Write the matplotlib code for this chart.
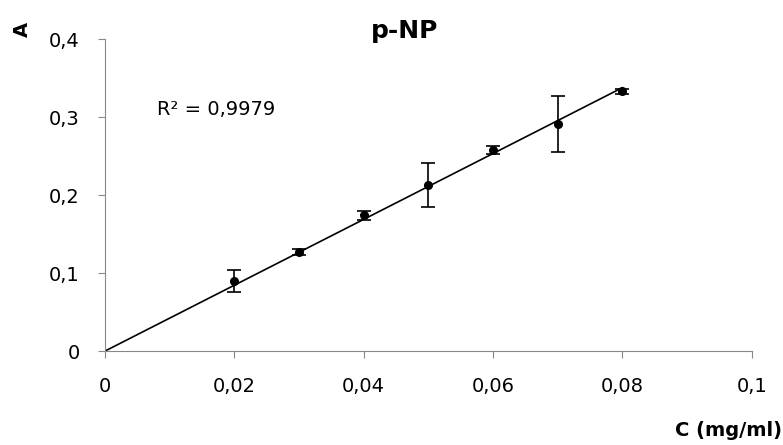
import numpy as np
import matplotlib.pyplot as plt
from matplotlib.ticker import FuncFormatter

plt.rcParams['font.family'] = ['DejaVu Sans']

# -----------------------
# Data
# -----------------------
conc = [0.02, 0.03, 0.04, 0.05, 0.06, 0.07, 0.08]
absorb = [0.090, 0.127, 0.174, 0.213, 0.258, 0.291, 0.333]
err = [0.014, 0.004, 0.006, 0.028, 0.005, 0.036, 0.003]
x_ticks = [0, 0.02, 0.04, 0.06, 0.08, 0.1]
y_ticks = [0, 0.1, 0.2, 0.3, 0.4]
r2_text = "R\u00b2 = 0,9979"

# linear trendline through origin
x = np.array(conc)
y = np.array(absorb)
slope = np.sum(x * y) / np.sum(x * x)

fig = plt.figure(figsize=(7.83, 4.45), dpi=100)
ax = fig.add_axes([0.134, 0.211, 0.826, 0.701])

ax.plot([0, x.max()], [0, slope * x.max()], color="black", lw=1.2, zorder=2)
ax.errorbar(conc, absorb, yerr=err, fmt="o", color="black", ms=5.5,
            elinewidth=1.2, capsize=5, capthick=1.2, zorder=3)

ax.set_xlim(0, 0.1)
ax.set_ylim(0, 0.4)
ax.set_xticks(x_ticks)
ax.set_yticks(y_ticks)
comma = FuncFormatter(lambda v, p: ("%g" % round(v, 3)).replace(".", ","))
ax.xaxis.set_major_formatter(comma)
ax.yaxis.set_major_formatter(comma)

for s in ["top", "right"]:
    ax.spines[s].set_visible(False)
for s in ["left", "bottom"]:
    ax.spines[s].set_color("#888888")
ax.tick_params(colors="#888888", labelcolor="black", labelsize=14,
               direction="out", length=5)
ax.tick_params(axis="x", pad=14)
ax.tick_params(axis="y", pad=13)

fig.text(0.517, 0.93, "p-NP", ha="center", va="center",
         fontsize=18, fontweight="bold")
fig.text(0.028, 0.933, "A", rotation=90, ha="center", va="center",
         fontsize=14, fontweight="bold")
fig.text(0.999, 0.032, "C (mg/ml)", ha="right", va="center",
         fontsize=14, fontweight="bold")
ax.text(0.0081, 0.31, r2_text, fontsize=14, va="center")

fig.savefig("out.png", dpi=100)
